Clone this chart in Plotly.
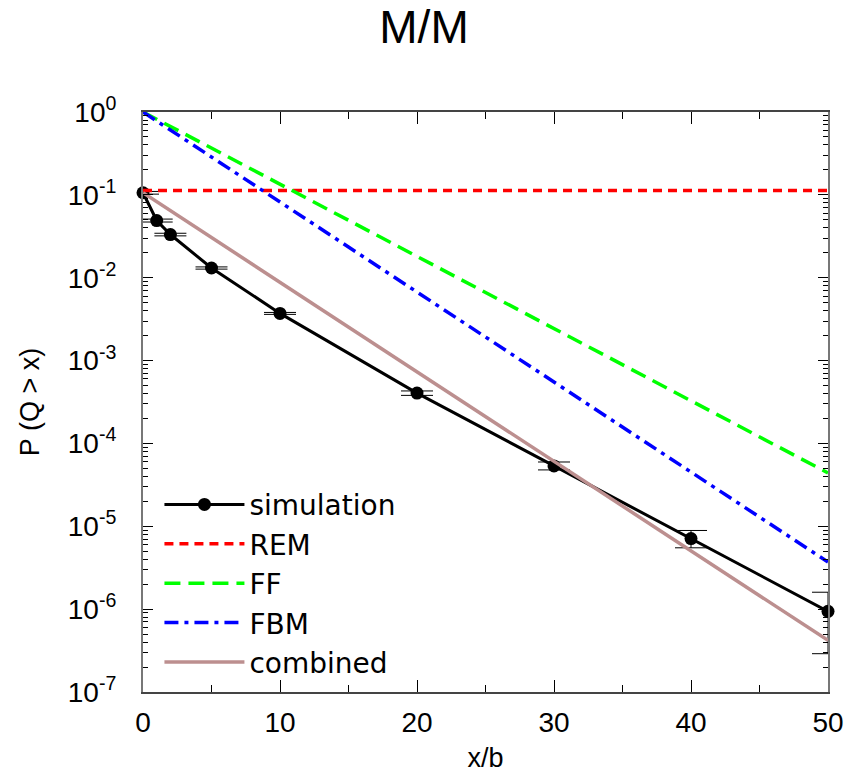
import plotly.graph_objects as go

# ---- data ----
sim_x = [0, 1, 2, 5, 10, 20, 30, 40, 50]
sim_y = [0.106, 0.049, 0.0332, 0.0131, 0.00371, 4.05e-4, 5.35e-5, 7.1e-6, 9.4e-7]
sim_err_plus = [0.004, 0.002, 0.0012, 0.0004, 0.0001, 0.25e-4, 0.62e-5, 1.8e-6, 6.6e-7]
sim_err_minus = [0.004, 0.002, 0.0012, 0.0004, 0.0001, 0.25e-4, 0.56e-5, 1.6e-6, 6.5e-7]

rem_x = [0, 50]
rem_y = [0.113, 0.113]

ff_x = [0, 50]
ff_y = [1.0, 4.4e-5]

fbm_x = [0, 50]
fbm_y = [1.0, 3.7e-6]

comb_x = [0, 50]
comb_y = [0.106, 4.2e-7]

x_ticks = [0, 10, 20, 30, 40, 50]
y_tickvals = [1, 1e-1, 1e-2, 1e-3, 1e-4, 1e-5, 1e-6, 1e-7]
y_ticktext = ["10<sup>0</sup>", "10<sup>-1</sup>", "10<sup>-2</sup>", "10<sup>-3</sup>",
              "10<sup>-4</sup>", "10<sup>-5</sup>", "10<sup>-6</sup>", "10<sup>-7</sup>"]

FONT = "Liberation Sans, Arial, sans-serif"
LFONT = "DejaVu Sans, sans-serif"

fig = go.Figure()

fig.add_trace(go.Scatter(
    x=sim_x, y=sim_y, name="simulation", mode="lines+markers",
    line=dict(color="black", width=3),
    marker=dict(color="black", size=13),
    error_y=dict(type="data", symmetric=False, array=sim_err_plus, arrayminus=sim_err_minus,
                 color="black", thickness=1, width=16),
    cliponaxis=False,
))
fig.add_trace(go.Scatter(
    x=rem_x, y=rem_y, name="REM", mode="lines",
    line=dict(color="#ff0000", width=3.5, dash="9px,6px"),
))
fig.add_trace(go.Scatter(
    x=ff_x, y=ff_y, name="FF", mode="lines",
    line=dict(color="#00ff00", width=3.5, dash="16px,8px"),
))
fig.add_trace(go.Scatter(
    x=fbm_x, y=fbm_y, name="FBM", mode="lines",
    line=dict(color="#0000ff", width=3.5, dash="14px,6px,4px,6px"),
))
fig.add_trace(go.Scatter(
    x=comb_x, y=comb_y, name="combined", mode="lines",
    line=dict(color="#bc8f8f", width=3.5),
))

fig.update_layout(
    width=848, height=777,
    paper_bgcolor="white", plot_bgcolor="white",
    margin=dict(l=143, r=20, t=112, b=85),
    font=dict(family=FONT, color="black", size=26),
    title=dict(text="M/M", x=0.5, xref="container", xanchor="center",
               y=0.966, yref="container", yanchor="middle", font=dict(size=46, family=FONT)),
    showlegend=True,
    legend=dict(x=0.024, y=0.366, xanchor="left", yanchor="top",
                bgcolor="rgba(0,0,0,0)", font=dict(size=28, family=LFONT),
                itemwidth=80, tracegroupgap=0),
)

fig.update_xaxes(
    range=[0, 50], tickvals=x_ticks, ticks="inside", ticklen=12, tickwidth=1,
    tickcolor="black", showline=True, linecolor="#444", linewidth=2, mirror="ticks",
    showgrid=False, zeroline=False, automargin=False,
    minor=dict(ticks="inside", ticklen=7, dtick=5, tickcolor="black", showgrid=False),
    title=dict(text="x/b", font=dict(size=27, family=FONT), standoff=12),
    tickfont=dict(size=28, family=FONT),
    ticklabelstandoff=4,
)
fig.update_yaxes(
    type="log", range=[-7, 0], tickvals=y_tickvals, ticktext=y_ticktext,
    ticks="inside", ticklen=10, tickwidth=1, tickcolor="black",
    showline=True, linecolor="#777", linewidth=2, mirror="ticks",
    showgrid=False, zeroline=False, automargin=False,
    minor=dict(ticks="inside", ticklen=5, dtick="D1", tickcolor="black", showgrid=False),
    title=dict(text="P (Q > x)", font=dict(size=27, family=FONT), standoff=20),
    tickfont=dict(size=28, family=FONT),
    ticklabelstandoff=19,
)

fig.write_html("out.html")
